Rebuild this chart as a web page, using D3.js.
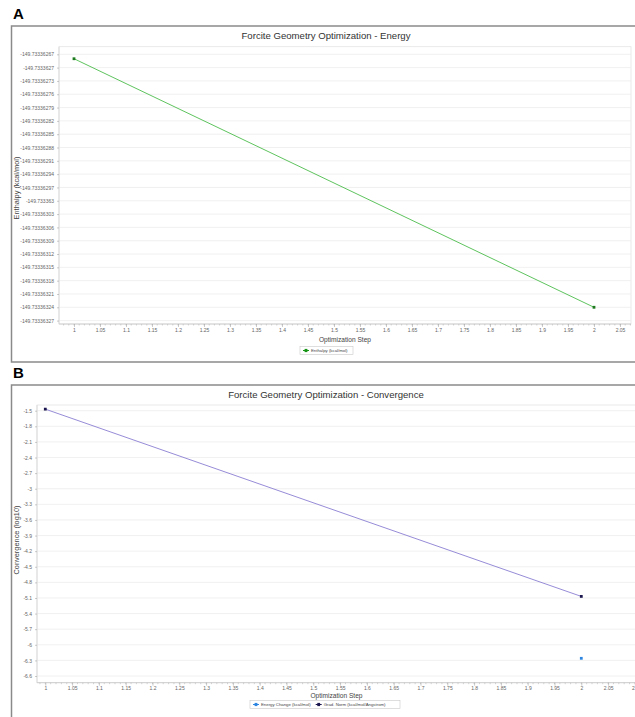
<!DOCTYPE html>
<html>
<head>
<meta charset="utf-8">
<script src="https://cdn.jsdelivr.net/npm/d3@7"></script>
<style>
body { margin: 0; background: #fff; }
text { font-family: "Liberation Sans", Arial, sans-serif; }
.tick text { fill: #666; }
</style>
</head>
<body>
<svg id="chart" width="635" height="717"></svg>
<script>
// panel A data
var energySteps = [1, 2];
var enthalpy = [-149.73336268, -149.73336324];
var enthalpyTicks = ['-149.73336267', '-149.7333627', '-149.73336273', '-149.73336276', '-149.73336279',
    '-149.73336282', '-149.73336285', '-149.73336288', '-149.73336291', '-149.73336294', '-149.73336297',
    '-149.733363', '-149.73336303', '-149.73336306', '-149.73336309', '-149.73336312', '-149.73336315',
    '-149.73336318', '-149.73336321', '-149.73336324', '-149.73336327'];
var stepTicksA = ['1', '1.05', '1.1', '1.15', '1.2', '1.25', '1.3', '1.35', '1.4', '1.45', '1.5', '1.55',
    '1.6', '1.65', '1.7', '1.75', '1.8', '1.85', '1.9', '1.95', '2', '2.05'];

// panel B data
var convSteps = [1, 2];
var gradNorm = [-1.47, -5.07];
var energyChange = [null, -6.26];
var convTicks = ['-1.5', '-1.8', '-2.1', '-2.4', '-2.7', '-3', '-3.3', '-3.6', '-3.9', '-4.2', '-4.5',
    '-4.8', '-5.1', '-5.4', '-5.7', '-6', '-6.3', '-6.6'];
var stepTicksB = ['1', '1.05', '1.1', '1.15', '1.2', '1.25', '1.3', '1.35', '1.4', '1.45', '1.5', '1.55',
    '1.6', '1.65', '1.7', '1.75', '1.8', '1.85', '1.9', '1.95', '2', '2.05', '2.1'];

var svg = d3.select('#chart');

function drawPanel(o) {
    var g = svg.append('g');
    // outer frame
    g.append('rect')
        .attr('x', 11.5).attr('y', o.top).attr('width', 640).attr('height', o.frameH)
        .attr('fill', '#fff').attr('stroke', '#8a8a8a').attr('stroke-width', 1.5);
    svg.append('text')
        .attr('x', 13).attr('y', o.top - 7)
        .style('font-size', '15px').style('font-weight', 'bold')
        .text(o.letter);
    g.append('text')
        .attr('x', 326).attr('y', o.top + 13)
        .attr('text-anchor', 'middle')
        .style('font-size', '9.6px').style('fill', '#333')
        .text(o.title);

    var p = o.plot;
    var x = d3.scaleLinear().domain([1, 2]).range(o.xRange);
    var y = d3.scaleLinear().domain(o.yDomain).range(o.yRange);

    g.append('rect')
        .attr('x', p.l).attr('y', p.t).attr('width', p.r - p.l).attr('height', p.b - p.t)
        .attr('fill', '#fff').attr('stroke', '#e4e4e4').attr('stroke-width', 0.8);

    // horizontal grid
    g.append('g').selectAll('line')
        .data(o.yTicks)
        .enter().append('line')
        .attr('x1', p.l).attr('x2', p.r)
        .attr('y1', function(d) { return y(+d); })
        .attr('y2', function(d) { return y(+d); })
        .attr('stroke', '#ececec').attr('stroke-width', 0.8);

    // minor ticks on x axis
    var minor = d3.range(0, Math.round((o.xMax - 0.95) * 100) + 1).map(function(i) { return 0.95 + i * 0.01; })
        .filter(function(v) { return x(v) >= p.l && x(v) <= p.r; });
    g.append('g').selectAll('line')
        .data(minor)
        .enter().append('line')
        .attr('x1', function(d) { return x(d); }).attr('x2', function(d) { return x(d); })
        .attr('y1', p.b).attr('y2', p.b + 1.5)
        .attr('stroke', '#aaa').attr('stroke-width', 0.5);

    var xAxis = g.append('g')
        .attr('transform', 'translate(0,' + p.b + ')')
        .call(d3.axisBottom(x)
            .tickValues(o.xTicks.map(Number))
            .tickFormat(function(d, i) { return o.xTicks[i]; })
            .tickSize(3).tickSizeOuter(0));
    xAxis.select('.domain').attr('stroke', '#bbb').attr('stroke-width', 0.6)
        .attr('d', 'M' + p.l + ',0H' + p.r);
    xAxis.selectAll('.tick line').attr('stroke', '#999').attr('stroke-width', 0.5);
    xAxis.selectAll('.tick text').style('font-size', '5px').attr('y', 4.2).attr('dy', '0.71em');

    var yAxis = g.append('g')
        .attr('transform', 'translate(' + p.l + ',0)')
        .call(d3.axisLeft(y)
            .tickValues(o.yTicks.map(Number))
            .tickFormat(function(d, i) { return o.yTicks[i]; })
            .tickSize(2).tickSizeOuter(0));
    yAxis.select('.domain').attr('stroke', '#ccc').attr('stroke-width', 0.6)
        .attr('d', 'M0,' + p.t + 'V' + p.b);
    yAxis.selectAll('.tick line').attr('stroke', '#999').attr('stroke-width', 0.5);
    yAxis.selectAll('.tick text').style('font-size', '5px');

    // axis titles
    g.append('text')
        .attr('x', (p.l + p.r) / 2).attr('y', p.b + o.xTitleOff)
        .attr('text-anchor', 'middle')
        .style('font-size', '6.6px').style('fill', '#444')
        .text('Optimization Step');
    g.append('text')
        .attr('transform', 'translate(19,' + o.yTitleY + ') rotate(-90)')
        .attr('text-anchor', 'middle')
        .style('font-size', '7.4px').style('fill', '#444')
        .text(o.yTitle);

    // series
    o.series.forEach(function(s) {
        var pts = s.values.map(function(v, i) { return [o.steps[i], v]; })
            .filter(function(d) { return d[1] !== null; });
        if (pts.length > 1) {
            g.append('path')
                .datum(pts)
                .attr('fill', 'none')
                .attr('stroke', s.line).attr('stroke-width', 0.9)
                .attr('d', d3.line().x(function(d) { return x(d[0]); }).y(function(d) { return y(d[1]); }));
        }
        g.append('g').selectAll('rect')
            .data(pts)
            .enter().append('rect')
            .attr('x', function(d) { return x(d[0]) - 1.4; })
            .attr('y', function(d) { return y(d[1]) - 1.4; })
            .attr('width', 2.8).attr('height', 2.8)
            .attr('fill', s.marker);
    });

    // legend
    var lg = g.append('g').attr('transform', 'translate(' + o.legend.x + ',' + o.legend.y + ')');
    lg.append('rect')
        .attr('x', 0).attr('y', 0).attr('width', o.legend.w).attr('height', 8)
        .attr('fill', '#fff').attr('stroke', '#c8c8c8').attr('stroke-width', 0.6);
    var lx = 3;
    o.series.forEach(function(s, i) {
        lg.append('line')
            .attr('x1', lx).attr('x2', lx + 6).attr('y1', 4).attr('y2', 4)
            .attr('stroke', s.legendColor).attr('stroke-width', 1);
        lg.append('rect')
            .attr('x', lx + 1.6).attr('y', 2.4).attr('width', 2.8).attr('height', 3.2)
            .attr('fill', s.legendColor);
        var t = lg.append('text')
            .attr('x', lx + 8).attr('y', 5.6)
            .style('font-size', '4.3px').style('fill', '#444')
            .text(s.name);
        lx += 8 + t.node().getComputedTextLength() + 5;
    });
}

drawPanel({
    letter: 'A', top: 26, frameH: 336,
    title: 'Forcite Geometry Optimization - Energy',
    plot: {l: 59, r: 631, t: 46.7, b: 324},
    xRange: [74, 594], xMax: 2.08, xTitleOff: 18.3,
    yDomain: [-149.73336327, -149.73336267], yRange: [320.6, 54.3],
    xTicks: stepTicksA, yTicks: enthalpyTicks,
    yTitle: 'Enthalpy (kcal/mol)', yTitleY: 188,
    steps: energySteps,
    series: [
        {name: 'Enthalpy (kcal/mol)', values: enthalpy, line: '#4cbc4c', marker: '#1f7a1f', legendColor: '#169416'}
    ],
    legend: {x: 300, y: 346.5, w: 53}
});

drawPanel({
    letter: 'B', top: 385, frameH: 345,
    title: 'Forcite Geometry Optimization - Convergence',
    plot: {l: 37, r: 636, t: 405, b: 682.7},
    xRange: [45.3, 581.3], xMax: 2.12, xTitleOff: 15.6,
    yDomain: [-6.6, -1.5], yRange: [676, 410.7],
    xTicks: stepTicksB, yTicks: convTicks,
    yTitle: 'Convergence (log10)', yTitleY: 540,
    steps: convSteps,
    series: [
        {name: 'Energy Change (kcal/mol)', values: energyChange, line: '#2f86e0', marker: '#2f86e0', legendColor: '#2f86e0'},
        {name: 'Grad. Norm (kcal/mol/Angstrom)', values: gradNorm, line: '#8a7fd2', marker: '#1c184f', legendColor: '#1c184f'}
    ],
    legend: {x: 250, y: 700.5, w: 150}
});
</script>
</body>
</html>
